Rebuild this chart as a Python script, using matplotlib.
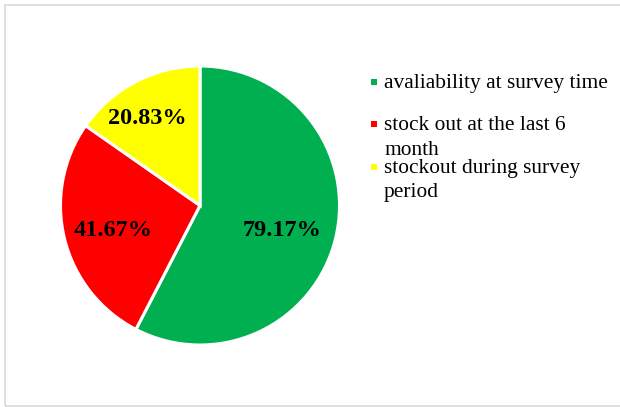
import matplotlib.pyplot as plt
from matplotlib.patches import Rectangle

labels = ['avaliability at survey time', 'stock out at the last 6\nmonth', 'stockout during survey\nperiod']
# slice sizes as drawn (degrees, in percent)
slice_shares = [57.6, 27.1, 15.3]
# data labels printed on the slices
value_labels = ['79.17%', '41.67%', '20.83%']
colors = ['#00B050', '#FF0000', '#FFFF00']

plt.rcParams['font.family'] = ['Liberation Serif', 'DejaVu Serif']

fig = plt.figure(figsize=(6.2, 4.07), dpi=100)
W, H = 620, 407

# outer frame (right side runs off the image)
fig.patches.append(Rectangle((5 / W, 1 - 405.5 / H), 625 / W, 401 / H, transform=fig.transFigure,
                             fill=False, edgecolor='#d9d9d9', linewidth=1.2))

ax = fig.add_axes([60.5 / W, 1 - 345 / H, 279 / W, 279 / H])
wedges, _ = ax.pie(slice_shares, colors=colors, startangle=90, counterclock=False,
                   wedgeprops=dict(edgecolor='white', linewidth=2.2))
ax.set_xlim(-1, 1)
ax.set_ylim(-1, 1)
ax.set_aspect('equal')

# value labels inside slices
label_pos = [(0.586, -0.176), (-0.626, -0.176), (-0.38, 0.627)]
for (x, y), txt in zip(label_pos, value_labels):
    ax.text(x, y, txt, ha='center', va='center', fontsize=17.5, fontweight='bold')

# legend drawn by hand
baselines = [88, 130, 173]
line_step = 24.5
for y, lab, c in zip(baselines, labels, colors):
    fig.patches.append(Rectangle((371 / W, 1 - (y - 3.5) / H), 6 / W, 6 / H,
                                 transform=fig.transFigure, facecolor=c, edgecolor='none'))
    for i, line in enumerate(lab.split('\n')):
        fig.text(384 / W, 1 - (y + i * line_step) / H, line, ha='left', va='baseline',
                 fontsize=15.4)

fig.savefig('out.png', dpi=100)
